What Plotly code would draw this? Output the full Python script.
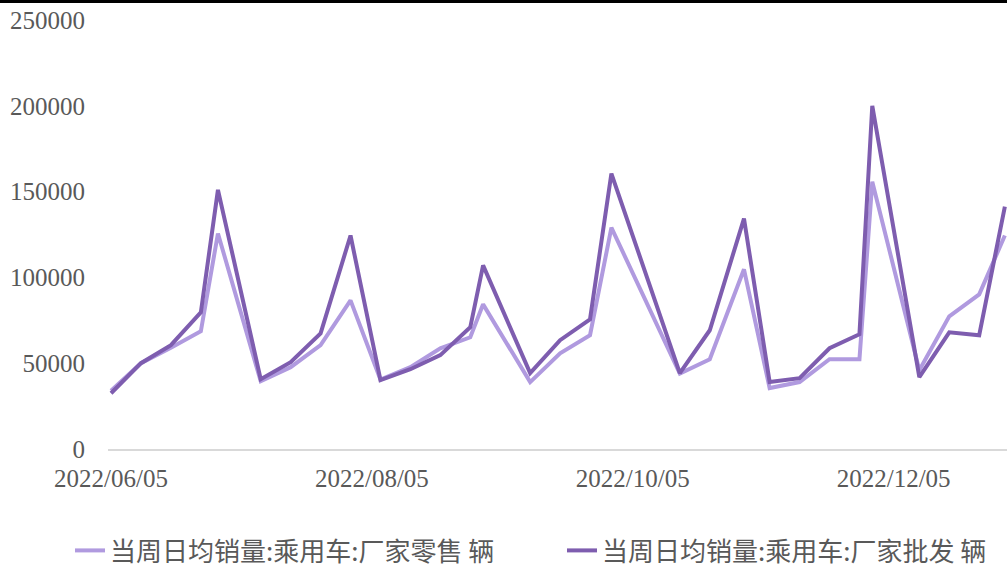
import plotly.graph_objects as go

# Weekly reporting dates (end of each week / month-end partial week)
dates = [
    "2022-06-05", "2022-06-12", "2022-06-19", "2022-06-26", "2022-06-30",
    "2022-07-10", "2022-07-17", "2022-07-24", "2022-07-31",
    "2022-08-07", "2022-08-14", "2022-08-21", "2022-08-28", "2022-08-31",
    "2022-09-11", "2022-09-18", "2022-09-25", "2022-09-30",
    "2022-10-16", "2022-10-23", "2022-10-31",
    "2022-11-06", "2022-11-13", "2022-11-20", "2022-11-27", "2022-11-30",
    "2022-12-11", "2022-12-18", "2022-12-25", "2022-12-31",
]

# Daily average passenger-car sales in the week (vehicles)
retail = [
    34000, 50000, 59000, 68600, 125600,
    39500, 47700, 60500, 86600,
    40500, 47700, 58700, 65100, 84300,
    39000, 55800, 66300, 129000,
    44000, 52300, 104700,
    35500, 39000, 52300, 52300, 155800,
    45900, 77300, 90100, 124400,
]
wholesale = [
    32500, 50000, 60500, 79600, 151000,
    40700, 50600, 67400, 124400,
    40100, 46500, 54700, 70900, 107000,
    44200, 63400, 75600, 160500,
    44200, 69200, 134300,
    39000, 41300, 58700, 66900, 200000,
    41900, 68000, 66300, 141300,
]

x_tick_vals = ["2022-06-05", "2022-08-05", "2022-10-05", "2022-12-05"]
x_tick_text = ["2022/06/05", "2022/08/05", "2022/10/05", "2022/12/05"]
y_tick_vals = [0, 50000, 100000, 150000, 200000, 250000]
y_tick_text = ["0", "50000", "100000", "150000", "200000", "250000"]

name_retail = "当周日均销量:乘用车:厂家零售 辆"
name_wholesale = "当周日均销量:乘用车:厂家批发 辆"

LIGHT = "#B09ADF"
DARK = "#7E5DAF"
GREY = "#595959"

W, H = 1007, 575
ML, MR, MT, MB = 108, 0, 20, 126

fig = go.Figure()
fig.add_trace(go.Scatter(
    x=dates, y=retail, name=name_retail, mode="lines",
    line=dict(color=LIGHT, width=4), legend="legend",
))
fig.add_trace(go.Scatter(
    x=dates, y=wholesale, name=name_wholesale, mode="lines",
    line=dict(color=DARK, width=4), legend="legend2",
))

plot_h = H - MT - MB
plot_w = W - ML - MR

# thin black rule across the very top of the figure
top_y = 1 + (MT - 1.5) / plot_h
fig.add_shape(
    type="line", xref="paper", yref="paper",
    x0=-ML / plot_w, x1=1 + MR / plot_w, y0=top_y, y1=top_y,
    line=dict(color="#000000", width=3),
)

# legends sit on the bottom edge of the figure
legend_y = -(H - 1 - (H - MB)) / plot_h
legend_font = dict(family="Noto Sans CJK SC", size=26, color=GREY)
legend_common = dict(
    orientation="h", xanchor="left", y=legend_y, yanchor="bottom",
    font=legend_font, itemwidth=30, bgcolor="rgba(0,0,0,0)",
)

fig.update_layout(
    width=W, height=H,
    margin=dict(l=ML, r=MR, t=MT, b=MB, pad=0, autoexpand=False),
    paper_bgcolor="white", plot_bgcolor="white",
    font=dict(family="Liberation Serif", size=25, color=GREY),
    showlegend=True,
    legend=dict(x=(70 - ML) / plot_w, **legend_common),
    legend2=dict(x=(562 - ML) / plot_w, **legend_common),
    xaxis=dict(
        type="date",
        range=["2022-06-04 07:00", "2022-12-31 12:00"],
        tickvals=x_tick_vals, ticktext=x_tick_text,
        showgrid=False, zeroline=False,
        showline=True, linecolor="#D9D9D9", linewidth=2,
        ticks="", ticklabelstandoff=6,
    ),
    yaxis=dict(
        range=[0, 250000],
        tickvals=y_tick_vals, ticktext=y_tick_text,
        showgrid=False, zeroline=False, showline=False,
        ticks="", ticklabelstandoff=22,
    ),
)

fig.write_html("out.html", config={"displayModeBar": False})
